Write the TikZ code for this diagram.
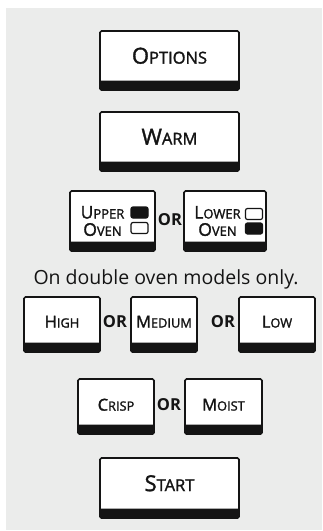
\documentclass[tikz,border=0pt]{standalone}
\usepackage{fontspec}
\setmainfont{Open Sans}
\newfontfamily\btnfont[FakeBold=1.6]{Open Sans}
\definecolor{bgcol}{RGB}{235,236,235}
\definecolor{ink}{RGB}{20,20,20}
\newcommand\bigsc[2]{{\btnfont\fontsize{22}{22}\selectfont #1}{\btnfont\fontsize{16.5}{16.5}\selectfont #2}}
\newcommand\smsc[2]{{\btnfont\fontsize{16.5}{17}\selectfont #1}{\btnfont\fontsize{12.8}{13}\selectfont #2}}
\newcommand\ovsc[2]{{\btnfont\fontsize{17.5}{17.5}\selectfont #1}{\btnfont\fontsize{13}{13}\selectfont #2}}
\tikzset{
  btnface/.style={fill=white, draw=ink, line width=1.6pt, rounded corners=1.5pt},
  btnbar/.style={fill=ink, draw=ink, line width=1.6pt, rounded corners=1.5pt},
  btntext/.style={inner sep=0pt, text=ink},
  ortext/.style={font=\fontsize{16.5}{16.5}\selectfont\bfseries, inner sep=0pt, text=ink},
  ind/.style={draw=ink, line width=1.2pt, rounded corners=2pt, minimum width=17pt, minimum height=11pt, inner sep=0pt},
}
% #1 name, #2 x1, #3 y1, #4 x2, #5 y2, #6 text y-shift, #7 text
\newcommand\ovbtn[7]{%
  \path[btnface] (#2,#3) rectangle (#4,#5);
  \path[btnbar] (#2,{#5-8.5}) rectangle (#4,#5);
  \node[btntext] (#1) at ({(#2+#4)/2},{(#3+#5-8.5)/2+#6}) {#7};
}
\begin{document}
\begin{tikzpicture}[x=1pt,y=-1pt]
\useasboundingbox (0,0) rectangle (322,531);
\fill[bgcol] (6,8) rectangle (322,530);

\ovbtn{options}{100}{31}{239}{90}{-0.5}{\bigsc{O}{PTIONS}}
\ovbtn{warm}{100}{112}{239}{171}{-0.5}{\bigsc{W}{ARM}}

% upper / lower oven
\ovbtn{upperbox}{70}{191}{155}{251}{0}{}
\node[btntext, align=center, font=\fontsize{17.5}{17.3}\selectfont] (upper) at (102.5,221) {\ovsc{U}{PPER}\\\ovsc{O}{VEN}};
\node[ind, fill=ink] (upperon) at (139.5,212.5) {};
\node[ind, fill=white] (upperoff) at (139.5,228) {};
\node[ortext] (or1) at (170,220) {OR};
\ovbtn{lowerbox}{184}{191}{266}{251}{0}{}
\node[btntext, align=center, font=\fontsize{17.5}{17.3}\selectfont] (lower) at (217.5,221) {\ovsc{L}{OWER}\\\ovsc{O}{VEN}};
\node[ind, fill=white] (loweroff) at (254,214) {};
\node[ind, fill=ink] (loweron) at (254,228.5) {};

\node[inner sep=0pt, anchor=base, text=ink, font=\fontsize{19.5}{20}\selectfont] (note) at (166,284) {On double oven models only.};

\ovbtn{high}{24}{297}{100}{352}{1.5}{\smsc{H}{IGH}}
\node[ortext] (or2) at (115,322) {OR};
\ovbtn{medium}{131}{297}{197}{352}{1.5}{\smsc{M}{EDIUM}}
\node[ortext] (or3) at (223,322) {OR};
\ovbtn{low}{239}{297}{315}{352}{1.5}{\smsc{L}{OW}}

\ovbtn{crisp}{78}{379}{154}{434}{2.5}{\smsc{C}{RISP}}
\node[ortext] (or4) at (169,405) {OR};
\ovbtn{moist}{185}{379}{262}{434}{2.5}{\smsc{M}{OIST}}

\ovbtn{start}{100}{458}{239}{518}{-0.5}{\bigsc{S}{TART}}
\end{tikzpicture}
\end{document}
